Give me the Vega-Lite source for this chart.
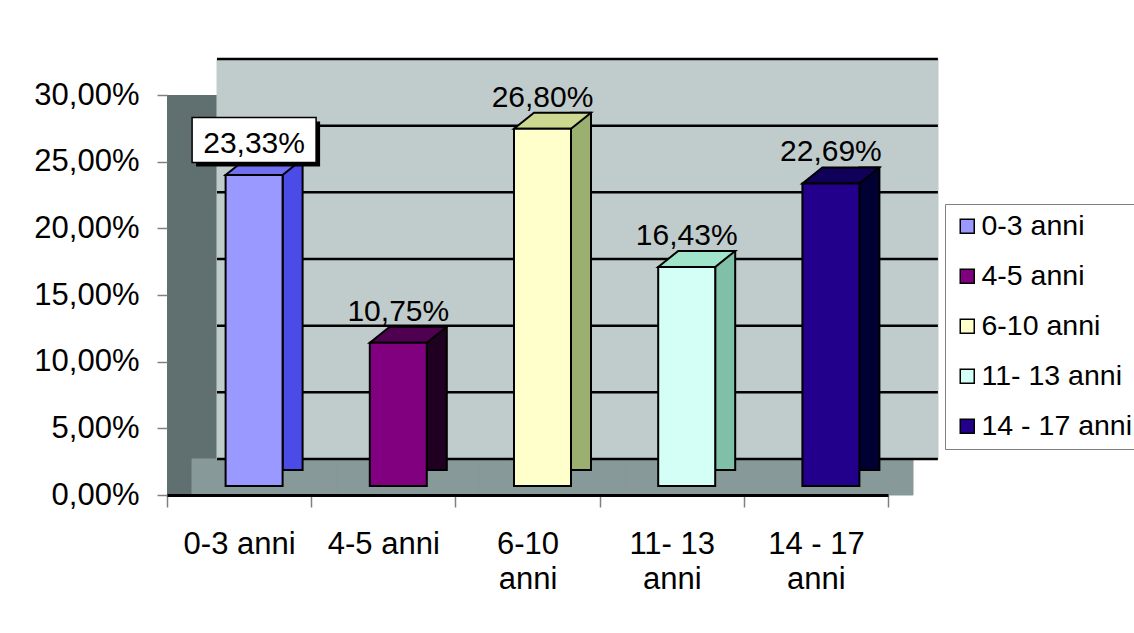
{
  "$schema": "https://vega.github.io/schema/vega-lite/v6.json",
  "autosize": "none",
  "width": 721,
  "height": 400,
  "padding": {"left": 167, "top": 95, "right": 246, "bottom": 138},
  "background": "white",
  "data": {
    "values": [
      {"fascia": "0-3 anni", "valore": 0.2333},
      {"fascia": "4-5 anni", "valore": 0.1075},
      {"fascia": "6-10 anni", "valore": 0.268},
      {"fascia": "11- 13 anni", "valore": 0.1643},
      {"fascia": "14 - 17 anni", "valore": 0.2269}
    ]
  },
  "encoding": {
    "x": {
      "field": "fascia",
      "type": "nominal",
      "sort": null,
      "scale": {"paddingInner": 0, "paddingOuter": 0},
      "axis": {
        "title": null,
        "labelAngle": 0,
        "labelFontSize": 31,
        "labelFont": "Liberation Sans",
        "labelColor": "black",
        "labelPadding": 22,
        "labelLineHeight": 35,
        "labelBaseline": "top",
        "labelExpr": "datum.value == null ? '' : (datum.value == '0-3 anni' || datum.value == '4-5 anni' ? datum.value : [replace(datum.value, ' anni', ''), 'anni'])",
        "tickSize": 12,
        "tickColor": "#808080",
        "tickWidth": 1.5,
        "tickBand": "extent",
        "domain": true,
        "domainColor": "black",
        "domainWidth": 3,
        "grid": false,
        "zindex": 1
      }
    },
    "y": {
      "field": "valore",
      "type": "quantitative",
      "scale": {"domain": [0, 0.3], "nice": false},
      "axis": {
        "title": null,
        "values": [0, 0.05, 0.1, 0.15, 0.2, 0.25, 0.3],
        "format": ".2%",
        "labelFontSize": 31,
        "labelFont": "Liberation Sans",
        "labelColor": "black",
        "labelPadding": 18,
        "tickSize": 10,
        "tickColor": "#808080",
        "tickWidth": 1.5,
        "domain": false,
        "grid": false
      }
    }
  },
  "layer": [
    {
      "mark": {"type": "rect", "fill": "#889999", "stroke": "#889999", "strokeWidth": 1, "xOffset": 25, "x2Offset": 25, "y2Offset": -36},
      "encoding": {
        "y": {"datum": 0, "type": "quantitative"},
        "y2": {"datum": 0}
      }
    },
    {
      "mark": {"type": "rect", "fill": "#C0CCCC", "stroke": "#C0CCCC", "strokeWidth": 1, "xOffset": 50, "x2Offset": 50, "yOffset": -36, "y2Offset": -36},
      "encoding": {
        "y": {"datum": 0, "type": "quantitative"},
        "y2": {"datum": 0.3}
      }
    },
    {
      "data": {"values": [{"g": 0}, {"g": 0.05}, {"g": 0.1}, {"g": 0.15}, {"g": 0.2}, {"g": 0.25}, {"g": 0.3}]},
      "mark": {"type": "rule", "color": "black", "strokeWidth": 2.5, "xOffset": 50, "x2Offset": 122, "yOffset": -36},
      "encoding": {
        "x": {"datum": "0-3 anni", "type": "nominal", "bandPosition": 0},
        "x2": {"datum": "14 - 17 anni"},
        "y": {"field": "g", "type": "quantitative"}
      }
    },
    {
      "mark": {"type": "bar", "size": 20, "xOffset": 53.5, "yOffset": -25, "stroke": "black", "strokeWidth": 2},
      "encoding": {
        "color": {
          "field": "fascia",
          "type": "nominal",
          "sort": null,
          "scale": {"range": ["#4B4BE8", "#200020", "#9BB070", "#80C0A8", "#000033"]},
          "legend": null
        }
      }
    },
    {
      "mark": {"type": "point", "shape": "M-0.9625,0.2L-0.4625,-0.2L0.9625,-0.2L0.4625,0.2Z", "size": 6400, "filled": true, "opacity": 1, "stroke": "black", "strokeWidth": 2, "xOffset": 25, "yOffset": -17},
      "encoding": {
        "fill": {
          "field": "fascia",
          "type": "nominal",
          "sort": null,
          "scale": {"range": ["#7070F0", "#500050", "#CCD890", "#A0E4CC", "#10005A"]},
          "legend": null
        }
      }
    },
    {
      "mark": {"type": "bar", "size": 57, "xOffset": 15, "yOffset": -9, "stroke": "black", "strokeWidth": 2},
      "encoding": {
        "fill": {
          "field": "fascia",
          "type": "nominal",
          "sort": null,
          "scale": {"range": ["#9999FF", "#800080", "#FFFFCC", "#D4FFF6", "#22008C"]},
          "legend": {
            "title": null,
            "orient": "none",
            "legendX": 778,
            "legendY": 109,
            "strokeColor": "#808080",
            "fillColor": "white",
            "padding": 8,
            "symbolType": "square",
            "symbolSize": 196,
            "symbolStrokeColor": "black",
            "symbolStrokeWidth": 1.5,
            "symbolOpacity": 1,
            "labelFontSize": 28.5,
            "labelFont": "Liberation Sans",
            "labelColor": "black",
            "labelOffset": 0,
            "rowPadding": 21,
            "labelLimit": 300
          }
        }
      }
    },
    {
      "transform": [{"filter": "datum.fascia == '0-3 anni'"}],
      "mark": {"type": "point", "shape": "M-1,-0.363L1,-0.363L1,0.363L-1,0.363Z", "size": 15376, "filled": true, "color": "black", "opacity": 1, "xOffset": 19, "yOffset": -40}
    },
    {
      "transform": [{"filter": "datum.fascia == '0-3 anni'"}],
      "mark": {"type": "point", "shape": "M-1,-0.363L1,-0.363L1,0.363L-1,0.363Z", "size": 15376, "filled": true, "fill": "white", "stroke": "black", "strokeWidth": 1.5, "opacity": 1, "xOffset": 15, "yOffset": -44}
    },
    {
      "mark": {"type": "text", "fontSize": 30, "font": "Liberation Sans", "color": "black", "baseline": "alphabetic", "dx": 15, "dy": -31},
      "encoding": {"text": {"field": "valore", "type": "quantitative", "format": ".2%"}}
    }
  ],
  "resolve": {"scale": {"color": "independent", "fill": "independent"}},
  "config": {
    "locale": {"number": {"decimal": ",", "thousands": ".", "grouping": [3], "currency": ["", " €"]}},
    "view": {"fill": "#607070", "stroke": null}
  }
}
